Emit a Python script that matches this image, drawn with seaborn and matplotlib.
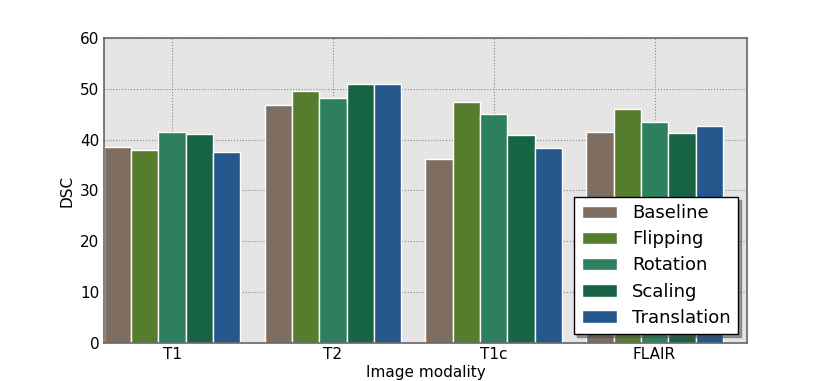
import pandas as pd
import matplotlib
matplotlib.use("Agg")
import matplotlib.pyplot as plt
import seaborn as sns

modalities = ['T1', 'T2', 'T1c', 'FLAIR']
methods = ['Baseline', 'Flipping', 'Rotation', 'Scaling', 'Translation']

baseline = [38.6, 46.8, 36.2, 41.5]
flipping = [38.0, 49.5, 47.4, 46.1]
rotation = [41.5, 48.2, 45.1, 43.4]
scaling = [41.1, 51.0, 40.9, 41.3]
translation = [37.5, 51.0, 38.4, 42.6]

colors = ['#7f6e5f', '#567d2e', '#2e7f5e', '#176445', '#24578b']

rows = []
for name, vals in zip(methods, [baseline, flipping, rotation, scaling, translation]):
    for m, v in zip(modalities, vals):
        rows.append({'modality': m, 'method': name, 'dsc': v})
df = pd.DataFrame(rows)

sns.set_style('white')
plt.rcParams['font.family'] = ['DejaVu Sans']
plt.rcParams['text.color'] = 'black'
plt.rcParams['axes.labelcolor'] = 'black'
plt.rcParams['xtick.color'] = 'black'
plt.rcParams['ytick.color'] = 'black'

fig, ax = plt.subplots(figsize=(8.3, 3.81), dpi=100)
fig.subplots_adjust(left=0.125, right=0.9, bottom=0.1, top=0.9)
ax.set_facecolor('#e5e5e5')

sns.barplot(data=df, x='modality', y='dsc', hue='method', order=modalities,
            hue_order=methods, palette=colors, width=0.85, saturation=1,
            edgecolor='white', linewidth=1, ax=ax)

ax.set_axisbelow(True)
ax.grid(True, axis='both', linestyle=':', color='#888888', linewidth=0.8)
ax.set_xlim(-0.425, 3.575)
ax.set_ylim(0, 60)
ax.set_yticks(range(0, 61, 10))
ax.set_xlabel('Image modality', fontsize=11, labelpad=2)
ax.set_ylabel('DSC', fontsize=11)
ax.tick_params(axis='both', length=0, labelsize=11, pad=3)
for s in ax.spines.values():
    s.set_color('#666666')
    s.set_linewidth(1.2)

leg = ax.legend(loc='lower right', fontsize=13, frameon=True, fancybox=False,
                shadow=True, borderaxespad=0.5, labelspacing=0.45,
                handlelength=1.95, handletextpad=0.85)
leg.get_frame().set_edgecolor('black')
leg.get_frame().set_alpha(1)

fig.savefig('out.png', dpi=100)
